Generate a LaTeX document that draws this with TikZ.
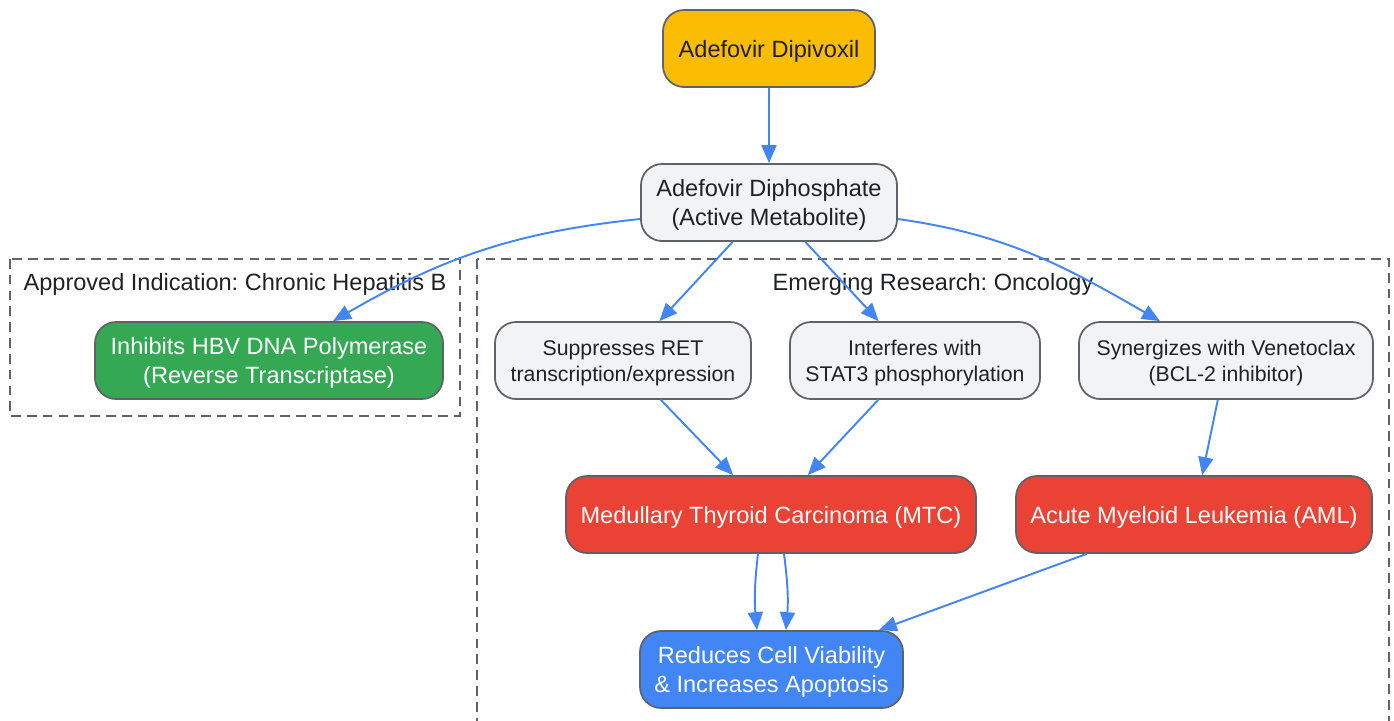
\documentclass[tikz,border=0pt]{standalone}
\usepackage{fontspec}
\setmainfont{Liberation Sans}
\usepackage{tikz}
\usetikzlibrary{calc,arrows.meta}
\frenchspacing
\definecolor{fill_yellow}{HTML}{FBBC04}
\definecolor{fill_grey}{HTML}{F1F3F4}
\definecolor{fill_green}{HTML}{34A853}
\definecolor{fill_red}{HTML}{EA4335}
\definecolor{fill_blue}{HTML}{4285F4}
\definecolor{line_grey}{HTML}{5F6368}
\definecolor{text_dark}{HTML}{202124}
\colorlet{link_blue}{fill_blue}
\newcommand{\topstrut}{\rule{0pt}{0.95em}}
\newcommand{\botstrut}{\rule[-0.212em]{0pt}{0pt}}
\tikzset{
    box/.style={draw=line_grey,line width=1pt,rounded corners=12pt,align=center,inner sep=0pt,minimum height=1.54cm,text=text_dark,font=\fontsize{13.4}{16.5}\selectfont,execute at begin node=\topstrut,execute at end node=\botstrut},
    box_small/.style={box,fill=fill_grey,font=\fontsize{12.1}{14.8}\selectfont},
    cluster/.style={draw=line_grey,line width=1pt,dash pattern=on 5.5pt off 3.5pt},
    cluster_label/.style={text=text_dark,font=\fontsize{13.4}{16.5}\selectfont,execute at begin node=\topstrut,execute at end node=\botstrut},
    link/.style={-{Triangle[length=3.6mm,width=3mm]},line width=1.1pt,link_blue},
}

\begin{document}
\begin{tikzpicture}
  \useasboundingbox (0,0) rectangle (27.88,-14.4);
  % Draw clusters (dashed)
  \draw[cluster] (0.2,-5.18) rectangle (9.2,-8.32);
  \draw[cluster] (9.54,-5.18) rectangle (27.78,-14.8);
  \node[cluster_label] (hbv_label) at (4.70,-5.64) {Approved Indication: Chronic Hepatitis B};
  \node[cluster_label] (onc_label) at (18.66,-5.64) {Emerging Research: Oncology};
  % Draw nodes
  \node[box,fill=fill_yellow,minimum width=4.24cm] (dipivoxil) at (15.38,-0.97) {Adefovir Dipivoxil};
  \node[box,fill=fill_grey,minimum width=5.12cm] (diphos) at (15.38,-4.05) {\topstrut Adefovir Diphosphate\\(Active Metabolite)};
  \node[box,fill=fill_green,text=white,minimum width=6.96cm] (hbv) at (5.38,-7.21) {\topstrut Inhibits HBV DNA Polymerase\\(Reverse Transcriptase)};
  \node[box_small,minimum width=5.12cm] (ret) at (12.46,-7.21) {\topstrut Suppresses RET\\transcription/expression};
  \node[box_small,minimum width=5.00cm] (stat) at (18.30,-7.21) {\topstrut Interferes with\\STAT3 phosphorylation};
  \node[box_small,minimum width=5.88cm] (vene) at (24.52,-7.21) {\topstrut Synergizes with Venetoclax\\(BCL-2 inhibitor)};
  \node[box,fill=fill_red,text=white,minimum width=8.20cm] (mtc) at (15.42,-10.29) {Medullary Thyroid Carcinoma (MTC)};
  \node[box,fill=fill_red,text=white,minimum width=7.12cm] (aml) at (23.88,-10.29) {Acute Myeloid Leukemia (AML)};
  \node[box,fill=fill_blue,text=white,minimum width=5.26cm] (apop) at (15.43,-13.39) {\topstrut Reduces Cell Viability\\\& Increases Apoptosis};
  % Draw links
  \draw[link] (dipivoxil) -- (diphos);
  \draw[link] ($(diphos.west)+(0,-0.33)$) to[out=186,in=30] ($(hbv.north)+(1.28,0)$);
  \draw[link] (diphos) -- (ret);
  \draw[link] (diphos) -- (stat);
  \draw[link] ($(diphos.east)+(0,-0.33)$) to[out=-8,in=150] ($(vene.north)+(-1.32,0)$);
  \draw[link] (ret) -- (mtc);
  \draw[link] (stat) -- (mtc);
  \draw[link] (vene) -- (aml);
  \draw[link] ($(mtc.south)+(-0.26,0)$) to[bend right=6] ($(apop.north)+(-0.29,0)$);
  \draw[link] ($(mtc.south)+(0.26,0)$) to[bend left=6] ($(apop.north)+(0.29,0)$);
  \draw[link] (aml) -- (apop);
\end{tikzpicture}
\end{document}
